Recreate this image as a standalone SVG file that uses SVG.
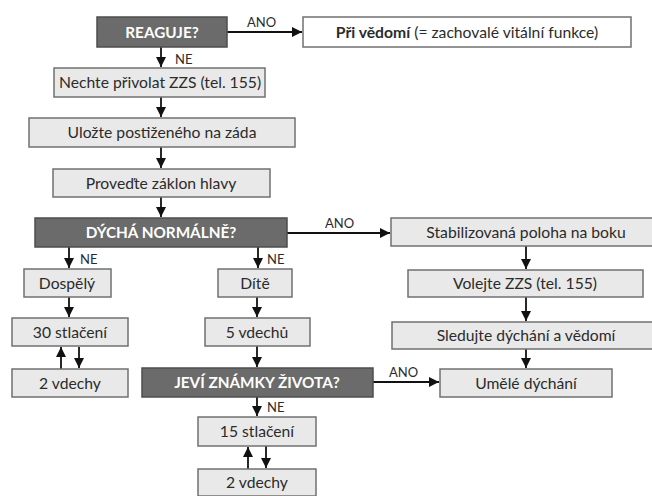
<svg xmlns="http://www.w3.org/2000/svg" width="652" height="496" viewBox="0 0 652 496">
<style>
  .dark rect { fill: #6b6b6b; stroke: #4d4d4d; stroke-width: 1.5; }
  .light rect { fill: #e9e9e9; stroke: #707070; stroke-width: 1.5; }
  .white rect { fill: #ffffff; stroke: #707070; stroke-width: 1.5; }
  text { font-family: Lato, "Open Sans", sans-serif; text-anchor: middle; }
  .dark text { fill: #ffffff; font-weight: bold; font-size: 15.3px; }
  .light text, .white text { fill: #2b2b2b; font-size: 15.7px; }
  .lbl { fill: #2b2b2b; font-size: 13px; text-anchor: start; }
  #connectors line { stroke: #111; stroke-width: 1.8; }
</style>
<defs>
  <marker id="ah" viewBox="0 0 10 10" refX="10" refY="5" markerWidth="10" markerHeight="10" markerUnits="userSpaceOnUse" orient="auto">
    <path d="M0,0 L10,5 L0,10 z" fill="#111"/>
  </marker>
</defs>
<rect width="652" height="496" fill="#ffffff"/>

<g id="connectors">
  <line x1="227" y1="32" x2="302" y2="32" marker-end="url(#ah)"/>
  <line x1="161" y1="47" x2="161" y2="67" marker-end="url(#ah)"/>
  <line x1="161" y1="97" x2="161" y2="117" marker-end="url(#ah)"/>
  <line x1="161" y1="147" x2="161" y2="168" marker-end="url(#ah)"/>
  <line x1="161" y1="197" x2="161" y2="217" marker-end="url(#ah)"/>
  <line x1="287" y1="233" x2="390" y2="233" marker-end="url(#ah)"/>
  <line x1="69" y1="247" x2="69" y2="268" marker-end="url(#ah)"/>
  <line x1="258" y1="247" x2="258" y2="268" marker-end="url(#ah)"/>
  <line x1="69" y1="297" x2="69" y2="317" marker-end="url(#ah)"/>
  <line x1="61" y1="369" x2="61" y2="347" marker-end="url(#ah)"/>
  <line x1="79" y1="347" x2="79" y2="368" marker-end="url(#ah)"/>
  <line x1="257" y1="297" x2="257" y2="317" marker-end="url(#ah)"/>
  <line x1="257" y1="346" x2="257" y2="367" marker-end="url(#ah)"/>
  <line x1="373" y1="382" x2="439" y2="382" marker-end="url(#ah)"/>
  <line x1="257" y1="397" x2="257" y2="416" marker-end="url(#ah)"/>
  <line x1="248" y1="469" x2="248" y2="447" marker-end="url(#ah)"/>
  <line x1="266" y1="446" x2="266" y2="468" marker-end="url(#ah)"/>
  <line x1="526" y1="246" x2="526" y2="269" marker-end="url(#ah)"/>
  <line x1="526" y1="297" x2="526" y2="321" marker-end="url(#ah)"/>
  <line x1="526" y1="349" x2="526" y2="368" marker-end="url(#ah)"/>
  <text class="lbl" x="247" y="27">ANO</text>
  <text class="lbl" x="175" y="64">NE</text>
  <text class="lbl" x="325" y="228">ANO</text>
  <text class="lbl" x="80" y="264">NE</text>
  <text class="lbl" x="267" y="264">NE</text>
  <text class="lbl" x="389" y="377">ANO</text>
  <text class="lbl" x="267" y="412">NE</text>
</g>

<g id="reaguje" class="dark"><rect x="97" y="17" width="130" height="30"/><text x="162" y="37.5">REAGUJE?</text></g>
<g id="pri-vedomi" class="white"><rect x="303" y="17" width="328" height="30"/><text x="467" y="37.5"><tspan font-weight="bold">Při vědomí</tspan> (= zachovalé vitální funkce)</text></g>
<g id="nechte" class="light"><rect x="54" y="68" width="211" height="29"/><text x="160" y="88">Nechte přivolat ZZS (tel. 155)</text></g>
<g id="ulozte" class="light"><rect x="29" y="118" width="266" height="29"/><text x="162" y="138">Uložte postiženého na záda</text></g>
<g id="provedte" class="light"><rect x="53" y="169" width="217" height="28"/><text x="161" y="188.5">Proveďte záklon hlavy</text></g>
<g id="dycha" class="dark"><rect x="35" y="218" width="252" height="29"/><text x="161" y="238">DÝCHÁ NORMÁLNĚ?</text></g>
<g id="stabilizovana" class="light"><rect x="391" y="218" width="270" height="28"/><text x="526" y="237.5">Stabilizovaná poloha na boku</text></g>
<g id="volejte" class="light"><rect x="408" y="270" width="235" height="27"/><text x="525" y="289">Volejte ZZS (tel. 155)</text></g>
<g id="sledujte" class="light"><rect x="392" y="322" width="268" height="27"/><text x="526" y="341">Sledujte dýchání a vědomí</text></g>
<g id="umele" class="light"><rect x="440" y="369" width="172" height="28"/><text x="526" y="388.5">Umělé dýchání</text></g>
<g id="dospely" class="light"><rect x="24" y="269" width="87" height="28"/><text x="67" y="288.5">Dospělý</text></g>
<g id="stlaceni30" class="light"><rect x="12" y="318" width="116" height="28"/><text x="70" y="337.5">30 stlačení</text></g>
<g id="vdechy2a" class="light"><rect x="12" y="369" width="116" height="28"/><text x="70" y="388.5">2 vdechy</text></g>
<g id="dite" class="light"><rect x="218" y="269" width="74" height="28"/><text x="255" y="288.5">Dítě</text></g>
<g id="vdechu5" class="light"><rect x="205" y="318" width="105" height="28"/><text x="257" y="337.5">5 vdechů</text></g>
<g id="jevi" class="dark"><rect x="142" y="368" width="231" height="29"/><text x="257" y="388">JEVÍ ZNÁMKY ŽIVOTA?</text></g>
<g id="stlaceni15" class="light"><rect x="198" y="417" width="118" height="29"/><text x="257" y="437">15 stlačení</text></g>
<g id="vdechy2b" class="light"><rect x="198" y="469" width="118" height="27"/><text x="257" y="488">2 vdechy</text></g>
</svg>
